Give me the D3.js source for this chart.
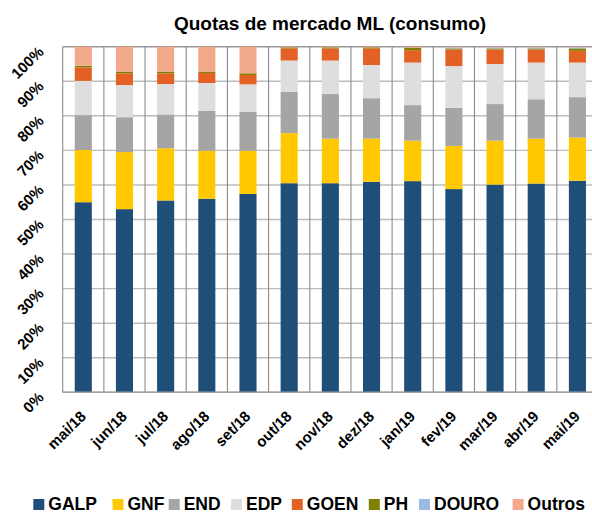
<!DOCTYPE html>
<html lang="pt">
<head>
<meta charset="utf-8">
<title>Quotas de mercado ML (consumo)</title>
<script src="https://cdn.jsdelivr.net/npm/d3@7/dist/d3.min.js"></script>
<style>
    body { margin: 0; background: #fff; }
    text { font-family: Arial, "Liberation Sans", sans-serif; font-weight: bold; fill: #000; }
</style>
</head>
<body>
<script>
// months on the x axis
var months = ["mai/18", "jun/18", "jul/18", "ago/18", "set/18", "out/18", "nov/18",
              "dez/18", "jan/19", "fev/19", "mar/19", "abr/19", "mai/19"];

// market shares (%)
var galp   = [55.0, 53.0, 55.5, 56.0, 57.4, 60.5, 60.5, 60.9, 61.1, 58.8, 60.1, 60.4, 61.2];
var gnf    = [15.1, 16.5, 15.1, 13.9, 12.5, 14.5, 12.9, 12.5, 11.7, 12.5, 12.7, 13.0, 12.5];
var endd   = [10.1, 10.1,  9.8, 11.5, 11.3, 12.0, 12.9, 11.7, 10.3, 11.0, 10.6, 11.4, 11.7];
var edp    = [ 9.9,  9.3,  8.8,  8.1,  7.9,  9.0,  9.7,  9.6, 12.3, 12.1, 11.6, 10.6, 10.0];
var goen   = [ 3.9,  3.4,  3.1,  2.9,  2.7,  3.5,  3.5,  4.8,  3.6,  4.8,  4.2,  3.8,  3.4];
var ph     = [ 0.5,  0.5,  0.5,  0.4,  0.5,  0.3,  0.3,  0.3,  0.7,  0.3,  0.3,  0.3,  0.7];
var douro  = [ 0.0,  0.0,  0.0,  0.0,  0.0,  0.0,  0.0,  0.0,  0.0,  0.3,  0.3,  0.3,  0.3];
var outros = [ 5.5,  7.2,  7.2,  7.2,  7.7,  0.2,  0.2,  0.2,  0.3,  0.2,  0.2,  0.2,  0.2];

var seriesNames = ["GALP", "GNF", "END", "EDP", "GOEN", "PH", "DOURO", "Outros"];
var seriesData  = [galp, gnf, endd, edp, goen, ph, douro, outros];
var colors      = ["#1F4E79", "#FFC800", "#A5A5A5", "#DEDEDE", "#E46126", "#808000", "#9BBBE0", "#F1A98A"];

var yTicks = [0, 10, 20, 30, 40, 50, 60, 70, 80, 90, 100];

var W = 592, H = 513;
// plot area (window.top is taken, so use pTop etc.)
var pLeft = 62.7, pRight = 598, pTop = 46.7, pBottom = 392.3;

var svg = d3.select("body").append("svg").attr("width", W).attr("height", H);

// build rows for the stack
var rows = months.map(function(m, i) {
    var r = { month: m };
    seriesNames.forEach(function(s, j) { r[s] = seriesData[j][i]; });
    return r;
});
var stacked = d3.stack().keys(seriesNames)(rows);

var x = d3.scaleBand().domain(months).range([pLeft, pRight]).padding(0);
var y = d3.scaleLinear().domain([0, 100]).range([pBottom, pTop]);
var barW = x.bandwidth() * 0.415;

// title
svg.append("text")
    .attr("x", 330).attr("y", 29.5)
    .attr("text-anchor", "middle")
    .style("font-size", "19px")
    .text("Quotas de mercado ML (consumo)");

// horizontal gridlines
svg.append("g").selectAll("line").data(yTicks).enter().append("line")
    .attr("x1", pLeft).attr("x2", pRight)
    .attr("y1", function(d) { return y(d); })
    .attr("y2", function(d) { return y(d); })
    .attr("stroke", function(d) { return d == 100 ? "#999" : "#BCBCBC"; })
    .attr("stroke-width", 1.4);

// vertical gridlines (category borders)
svg.append("g").selectAll("line").data(months).enter().append("line")
    .attr("x1", function(d) { return x(d); })
    .attr("x2", function(d) { return x(d); })
    .attr("y1", pTop).attr("y2", pBottom)
    .attr("stroke", "#8C8C8C")
    .attr("stroke-width", 1.1);

// bars
svg.append("g").selectAll("g").data(stacked).enter().append("g")
    .attr("fill", function(d, i) { return colors[i]; })
    .selectAll("rect").data(function(d) { return d; }).enter().append("rect")
    .attr("x", function(d) { return x(d.data.month) + (x.bandwidth() - barW) / 2; })
    .attr("width", barW)
    .attr("y", function(d) { return y(d[1]); })
    .attr("height", function(d) { return y(d[0]) - y(d[1]); });

// axis line at 0
svg.append("line")
    .attr("x1", pLeft).attr("x2", pRight)
    .attr("y1", pBottom).attr("y2", pBottom)
    .attr("stroke", "#A0A0A0").attr("stroke-width", 1.4);

// y tick labels, rotated
svg.append("g").selectAll("text").data(yTicks).enter().append("text")
    .attr("text-anchor", "end")
    .style("font-size", "15px")
    .attr("transform", function(d) {
        return "translate(" + (pLeft - 18) + "," + (y(d) + 6) + ") rotate(-45)";
    })
    .text(function(d) { return d + "%"; });

// x tick labels, rotated
svg.append("g").selectAll("text").data(months).enter().append("text")
    .attr("text-anchor", "end")
    .style("font-size", "15px")
    .attr("transform", function(d) {
        return "translate(" + (x(d) + x.bandwidth() / 2 + 3.5) + "," + (pBottom + 25) + ") rotate(-45)";
    })
    .text(function(d) { return d; });

// legend
var legendX = [33.3, 112.5, 168.7, 231, 291.8, 368.8, 419, 512.6];
var legend = svg.append("g").selectAll("g").data(seriesNames).enter().append("g")
    .attr("transform", function(d, i) { return "translate(" + legendX[i] + ",499)"; });
legend.append("rect")
    .attr("width", 11).attr("height", 11)
    .attr("fill", function(d, i) { return colors[i]; });
legend.append("text")
    .attr("x", 15).attr("y", 10.5)
    .style("font-size", "17.5px")
    .text(function(d) { return d; });
</script>
</body>
</html>
